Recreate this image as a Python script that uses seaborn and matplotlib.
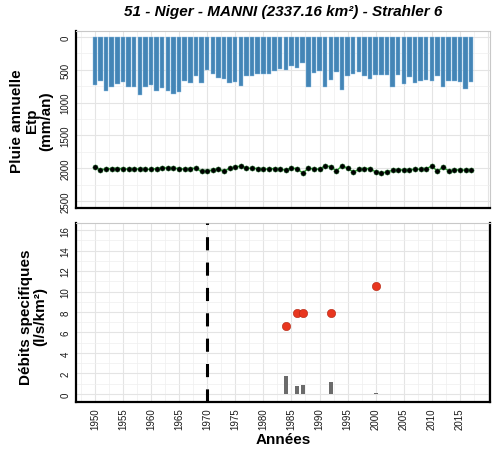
import matplotlib
matplotlib.use("Agg")
import matplotlib.pyplot as plt
import seaborn as sns
import numpy as np
import pandas as pd
from matplotlib.ticker import MultipleLocator

# data
years = list(range(1950, 2018))
rain = [734, 668, 826, 755, 719, 694, 770, 755, 887, 755,
        734, 816, 780, 816, 862, 846, 678, 709, 597, 709,
        510, 561, 627, 643, 709, 694, 750, 602, 602, 566,
        561, 561, 525, 490, 505, 449, 479, 403, 755, 551,
        525, 770, 658, 541, 806, 600, 560, 535, 595, 643,
        575, 575, 585, 768, 575, 719, 607, 700, 670, 655,
        669, 600, 770, 669, 669, 684, 786, 694]
etp = [1985, 2025, 2010, 2005, 2005, 2005, 2015, 2005, 2015, 2020,
       2015, 2005, 1995, 1995, 2000, 2005, 2015, 2005, 2000, 2050,
       2045, 2025, 2010, 2050, 2000, 1985, 1965, 2000, 2000, 2005,
       2015, 2010, 2005, 2020, 2025, 2000, 2005, 2075, 2000, 2010,
       2015, 1965, 1975, 2040, 1965, 2000, 2060, 2020, 2005, 2005,
       2060, 2075, 2055, 2035, 2025, 2025, 2025, 2015, 2015, 2010,
       1965, 2050, 1980, 2045, 2025, 2025, 2030, 2025]
q_years = [1984, 1986, 1987, 1992, 2000]
q_spec = [6.6, 7.9, 7.9, 7.9, 10.5]
q_bar = [1.7, 0.8, 0.85, 1.2, 0.12]
break_year = 1970

title = "51 - Niger - MANNI (2337.16 km²) - Strahler 6"

sns.set_style("white")
plt.rcParams["font.family"] = ["Liberation Sans", "DejaVu Sans"]
plt.rcParams["text.color"] = "black"

top_df = pd.DataFrame({"year": years, "rain": rain, "etp": etp})
q_df = pd.DataFrame({"year": q_years, "q": q_spec, "bar": q_bar})

fig = plt.figure(figsize=(4.92, 4.52), dpi=100)
ax1 = fig.add_axes([76 / 492, 1 - 209 / 452, 414 / 492, 177 / 452])
ax2 = fig.add_axes([76 / 492, 1 - 403 / 452, 414 / 492, 179 / 452])

xlim = (1946.65, 2020.35)


def style_axes(ax, right_black):
    ax.set_xlim(*xlim)
    ax.xaxis.set_major_locator(MultipleLocator(5))
    ax.xaxis.set_minor_locator(MultipleLocator(2.5))
    ax.grid(which="major", color="#e4e4e4", lw=0.8, zorder=0)
    ax.grid(which="minor", color="#efefef", lw=0.5, zorder=0)
    ax.set_axisbelow(True)
    for s in ["left", "bottom"]:
        ax.spines[s].set_color("black")
        ax.spines[s].set_linewidth(1.6)
    ax.spines["top"].set_color("#c8c8c8")
    ax.spines["top"].set_linewidth(0.8)
    if right_black:
        ax.spines["right"].set_color("black")
        ax.spines["right"].set_linewidth(1.6)
    else:
        ax.spines["right"].set_color("#c8c8c8")
        ax.spines["right"].set_linewidth(0.8)
    ax.tick_params(which="minor", length=0)
    ax.tick_params(axis="y", which="major", labelsize=7, length=2.5,
                   width=0.5, color="#333333", labelcolor="#1a1a1a",
                   labelrotation=90, pad=1.5)
    for lab in ax.get_yticklabels():
        lab.set_va("center")
    ax.set_xlabel("")
    ax.set_ylabel("")


# top panel: annual rainfall (bars from 0, reversed axis) and Etp
sns.barplot(data=top_df, x="year", y="rain", native_scale=True, width=0.8,
            color="#3187c9", edgecolor="#8fc0e6", linewidth=0.3,
            errorbar=None, ax=ax1, zorder=2)
sns.lineplot(data=top_df, x="year", y="etp", color="#2ca02c", lw=1.0,
             ax=ax1, zorder=3)
sns.scatterplot(data=top_df, x="year", y="etp", color="black", s=14,
                edgecolor="#1e7a2e", linewidth=0.3, ax=ax1, zorder=4)
ax1.set_ylim(2607, -91)
ax1.yaxis.set_major_locator(MultipleLocator(500))
ax1.yaxis.set_minor_locator(MultipleLocator(250))
style_axes(ax1, right_black=False)
ax1.tick_params(axis="x", which="both", length=0, labelbottom=False)

# bottom panel: specific discharge
sns.barplot(data=q_df, x="year", y="bar", native_scale=True, width=0.72,
            color="#6b6b6b", edgecolor="#6b6b6b", linewidth=0,
            errorbar=None, ax=ax2, zorder=2)
sns.scatterplot(data=q_df, x="year", y="q", color="#e8361f", s=36,
                edgecolor="#b02410", linewidth=0.4, ax=ax2, zorder=4)
ax2.axvline(break_year, color="black", lw=2.2, ls=(0, (4.3, 4.0)),
            zorder=3)
ax2.set_ylim(-0.8, 16.7)
ax2.yaxis.set_major_locator(MultipleLocator(2))
ax2.yaxis.set_minor_locator(MultipleLocator(1))
style_axes(ax2, right_black=True)
ax2.set_xticks(range(1950, 2016, 5))
ax2.tick_params(axis="x", which="major", labelsize=7, length=2.5,
                width=0.5, color="#333333", labelcolor="#1a1a1a",
                labelrotation=90, pad=1.5)

fig.text(283 / 492, 1 - 12 / 452, title, ha="center", va="center",
         fontsize=11, fontweight="bold", fontstyle="italic")
fig.text(32 / 492, 1 - 121 / 452, "Pluie annuelle\nEtp\n(mm/an)",
         rotation=90, ha="center", va="center", multialignment="center",
         fontsize=11, fontweight="bold", linespacing=1.05)
fig.text(33 / 492, 1 - 317 / 452, "Débits specifiques\n(l/s/km²)",
         rotation=90, ha="center", va="center", multialignment="center",
         fontsize=11, fontweight="bold", linespacing=1.05)
fig.text(283 / 492, 1 - 440 / 452, "Années", ha="center", va="center",
         fontsize=11, fontweight="bold")

fig.savefig("out.png", dpi=100)
